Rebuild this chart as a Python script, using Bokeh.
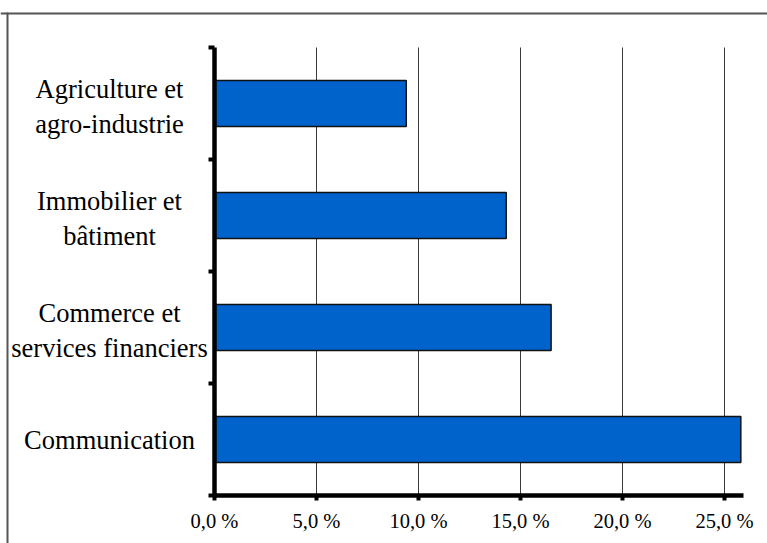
from bokeh.plotting import figure
from bokeh.models import ColumnDataSource, Range1d, FixedTicker, BoxAnnotation, Span
from bokeh.core.properties import value
from bokeh.embed import file_html
from bokeh.resources import INLINE

# Data (top to bottom as shown)
categories = ["Agriculture et\nagro-industrie", "Immobilier et\nbâtiment",
              "Commerce et\nservices financiers", "Communication"]
values = [9.4, 14.3, 16.5, 25.8]
x_ticks = [0, 5, 10, 15, 20, 25]
x_tick_labels = ["0,0 %", "5,0 %", "10,0 %", "15,0 %", "20,0 %", "25,0 %"]
x_max = 25.93

# bottom-to-top order for plotting
cats_bt = categories[::-1]
vals_bt = values[::-1]
n = len(cats_bt)
ypos = [i + 0.5 for i in range(n)]

bars = ColumnDataSource(dict(y=ypos, value=vals_bt))

# category label lines (one text glyph per line)
lab_y, lab_t, lab_off = [], [], []
LINE_GAP = 17.5
for yc, cat in zip(ypos, cats_bt):
    lines = cat.split("\n")
    k = len(lines)
    for j, ln in enumerate(lines):
        lab_y.append(yc)
        lab_t.append(ln)
        lab_off.append((j - (k - 1) / 2) * 2 * LINE_GAP + (3 if k > 1 else 0))
labels = ColumnDataSource(dict(y=lab_y, text=lab_t, off=lab_off))

FONT = "Liberation Serif"
PX_PER_X = 20.4      # screen px per percent
PX_PER_Y = 112.0     # screen px per category
W, H = 767, 543
ORIG_X, ORIG_Y = 214, 495   # canvas position of (0, 0)

x_range = Range1d(-ORIG_X / PX_PER_X, (W - ORIG_X) / PX_PER_X)
y_range = Range1d(-(H - ORIG_Y) / PX_PER_Y, ORIG_Y / PX_PER_Y)

p = figure(width=W, height=H, output_backend="svg", toolbar_location=None,
           x_range=x_range, y_range=y_range,
           min_border_left=0, min_border_right=0, min_border_top=0,
           min_border_bottom=0)
p.outline_line_color = None
p.background_fill_color = "white"
p.border_fill_color = "white"
p.xgrid.visible = False
p.ygrid.visible = False

# outer chart box: top edge (span) and left edge (2px filled strip)
BOX_COLOR = "#555555"
p.add_layout(Span(location=(ORIG_Y - 13) / PX_PER_Y, dimension="width",
                  line_color=BOX_COLOR, line_width=2))
p.add_layout(BoxAnnotation(left=-(ORIG_X - 6) / PX_PER_X, right=-(ORIG_X - 8) / PX_PER_X,
                           top=(ORIG_Y - 12) / PX_PER_Y, bottom=y_range.start,
                           fill_color=BOX_COLOR, fill_alpha=1.0, line_color=None,
                           level="underlay"))

# vertical grid lines over the category area
p.segment(x0=x_ticks[1:], x1=x_ticks[1:], y0=[0] * (len(x_ticks) - 1),
          y1=[n] * (len(x_ticks) - 1), line_color="#3a3a3a", line_width=1)

p.hbar(y="y", right="value", left=0, height=0.41, source=bars,
       fill_color="#0063CC", line_color="#111111", line_width=1.5)

p.text(x=0, y="y", text="text", y_offset="off", x_offset=-105, source=labels,
       text_font=value(FONT), text_font_size="26.5px", text_color="black",
       text_align="center", text_baseline="middle")

# X axis at y = 0
xa = p.xaxis[0]
xa.fixed_location = 0
xa.bounds = (0, x_max)
xa.ticker = FixedTicker(ticks=x_ticks, minor_ticks=[])
xa.major_label_overrides = {t: l for t, l in zip(x_ticks, x_tick_labels)}
xa.major_label_text_font = FONT
xa.major_label_text_font_size = "20.5px"
xa.major_label_text_color = "black"
xa.major_label_standoff = 9
xa.axis_line_width = 4.5
xa.axis_line_color = "black"
xa.major_tick_out = 5
xa.major_tick_in = 0
xa.major_tick_line_width = 4
xa.major_tick_line_color = "black"
xa.minor_tick_line_color = None

# Y axis at x = 0, ticks at category boundaries
ya = p.yaxis[0]
ya.fixed_location = 0
ya.bounds = (0, n)
ya.ticker = FixedTicker(ticks=[], minor_ticks=[float(i) for i in range(n + 1)])
ya.major_label_text_font_size = "0px"
ya.axis_line_width = 4.5
ya.axis_line_color = "black"
ya.major_tick_line_color = None
ya.minor_tick_out = 6
ya.minor_tick_in = 0
ya.minor_tick_line_width = 4
ya.minor_tick_line_color = "black"

open("out.html", "w").write(file_html(p, INLINE))
